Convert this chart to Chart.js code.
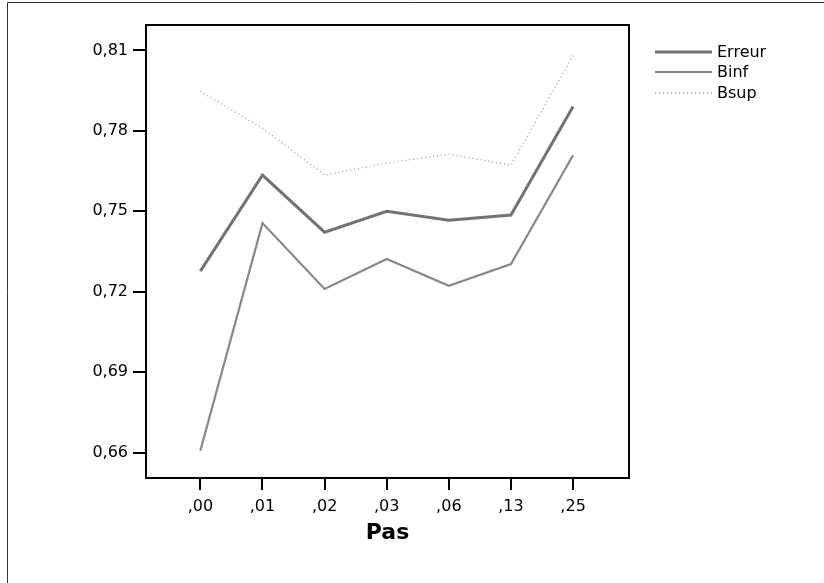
<!DOCTYPE html>
<html>
<head>
<meta charset="utf-8">
<script src="https://cdn.jsdelivr.net/npm/chart.js@4/dist/chart.umd.min.js"></script>
<style>
  html, body { margin: 0; padding: 0; background: #fff; }
  #wrap { position: relative; width: 824px; height: 583px; }
  canvas { display: block; }
</style>
</head>
<body>
<div id="wrap"><canvas id="c" width="824" height="583"></canvas></div>
<script>
const categories = [",00", ",01", ",02", ",03", ",06", ",13", ",25"];
const erreur = [0.7277, 0.7635, 0.7422, 0.7500, 0.7467, 0.7486, 0.7891];
const binf   = [0.6607, 0.7456, 0.7210, 0.7322, 0.7222, 0.7303, 0.7709];
const bsup   = [0.7947, 0.7810, 0.7635, 0.7680, 0.7713, 0.7672, 0.8081];
const yTicks = [0.66, 0.69, 0.72, 0.75, 0.78, 0.81];
const seriesNames = ["Erreur", "Binf", "Bsup"];

const toPts = arr => arr.map((v, i) => ({ x: i, y: v }));
const FONT = "'DejaVu Sans', Arial, sans-serif";

const framePlugin = {
  id: 'frame',
  afterDraw(chart) {
    const { ctx, chartArea: a } = chart;
    ctx.save();
    ctx.strokeStyle = '#000';
    ctx.lineWidth = 2;
    ctx.strokeRect(a.left, a.top, a.right - a.left, a.bottom - a.top);
    // outer border
    ctx.strokeStyle = '#333';
    ctx.lineWidth = 1;
    ctx.beginPath();
    ctx.moveTo(7.5, 583); ctx.lineTo(7.5, 2.5); ctx.lineTo(824, 2.5);
    ctx.stroke();
    // legend
    const ys = [52, 72, 93];
    ctx.font = "16px " + FONT;
    ctx.textBaseline = 'middle';
    ctx.fillStyle = '#000';
    chart.data.datasets.forEach((ds, i) => {
      ctx.beginPath();
      ctx.strokeStyle = ds.borderColor;
      ctx.lineWidth = ds.borderWidth;
      ctx.setLineDash(ds.borderDash || []);
      ctx.moveTo(655, ys[i]); ctx.lineTo(712, ys[i]);
      ctx.stroke();
      ctx.setLineDash([]);
      ctx.fillText(ds.label, 717, ys[i] + 1);
    });
    ctx.restore();
  }
};

new Chart(document.getElementById('c'), {
  type: 'line',
  data: {
    datasets: [
      { label: seriesNames[0], data: toPts(erreur), borderColor: '#737373', borderWidth: 3, pointRadius: 0, tension: 0 },
      { label: seriesNames[1], data: toPts(binf), borderColor: '#888888', borderWidth: 2.2, pointRadius: 0, tension: 0 },
      { label: seriesNames[2], data: toPts(bsup), borderColor: '#999999', borderWidth: 1.3, borderDash: [1, 3], pointRadius: 0, tension: 0 }
    ]
  },
  options: {
    responsive: false,
    animation: false,
    layout: { padding: { top: 25, right: 195, bottom: 0, left: 0 } },
    plugins: { legend: { display: false }, tooltip: { enabled: false } },
    scales: {
      x: {
        type: 'linear',
        min: -0.875,
        max: 6.9,
        afterBuildTicks(scale) { scale.ticks = categories.map((c, i) => ({ value: i })); },
        afterFit(scale) { scale.height = 105; },
        ticks: {
          callback: (v) => categories[v],
          color: '#000',
          font: { family: FONT, size: 16 },
          padding: 7,
          maxRotation: 0,
          autoSkip: false
        },
        grid: { drawOnChartArea: false, drawTicks: true, tickLength: 12, color: '#000', lineWidth: 2 },
        border: { display: true, color: '#000', width: 2 },
        title: { display: true, text: 'Pas', color: '#000', font: { family: FONT, size: 22, weight: 'bold' }, padding: { top: 4, bottom: 37 } }
      },
      y: {
        min: 0.6505,
        max: 0.8195,
        afterBuildTicks(scale) { scale.ticks = yTicks.map(v => ({ value: v })); },
        afterFit(scale) { scale.width = 146; },
        ticks: {
          callback: (v) => v.toFixed(2).replace('.', ','),
          color: '#000',
          font: { family: FONT, size: 16 },
          padding: 5
        },
        grid: { drawOnChartArea: false, drawTicks: true, tickLength: 13, color: '#000', lineWidth: 2 },
        border: { display: true, color: '#000', width: 2 }
      }
    }
  },
  plugins: [framePlugin]
});
</script>
</body>
</html>
